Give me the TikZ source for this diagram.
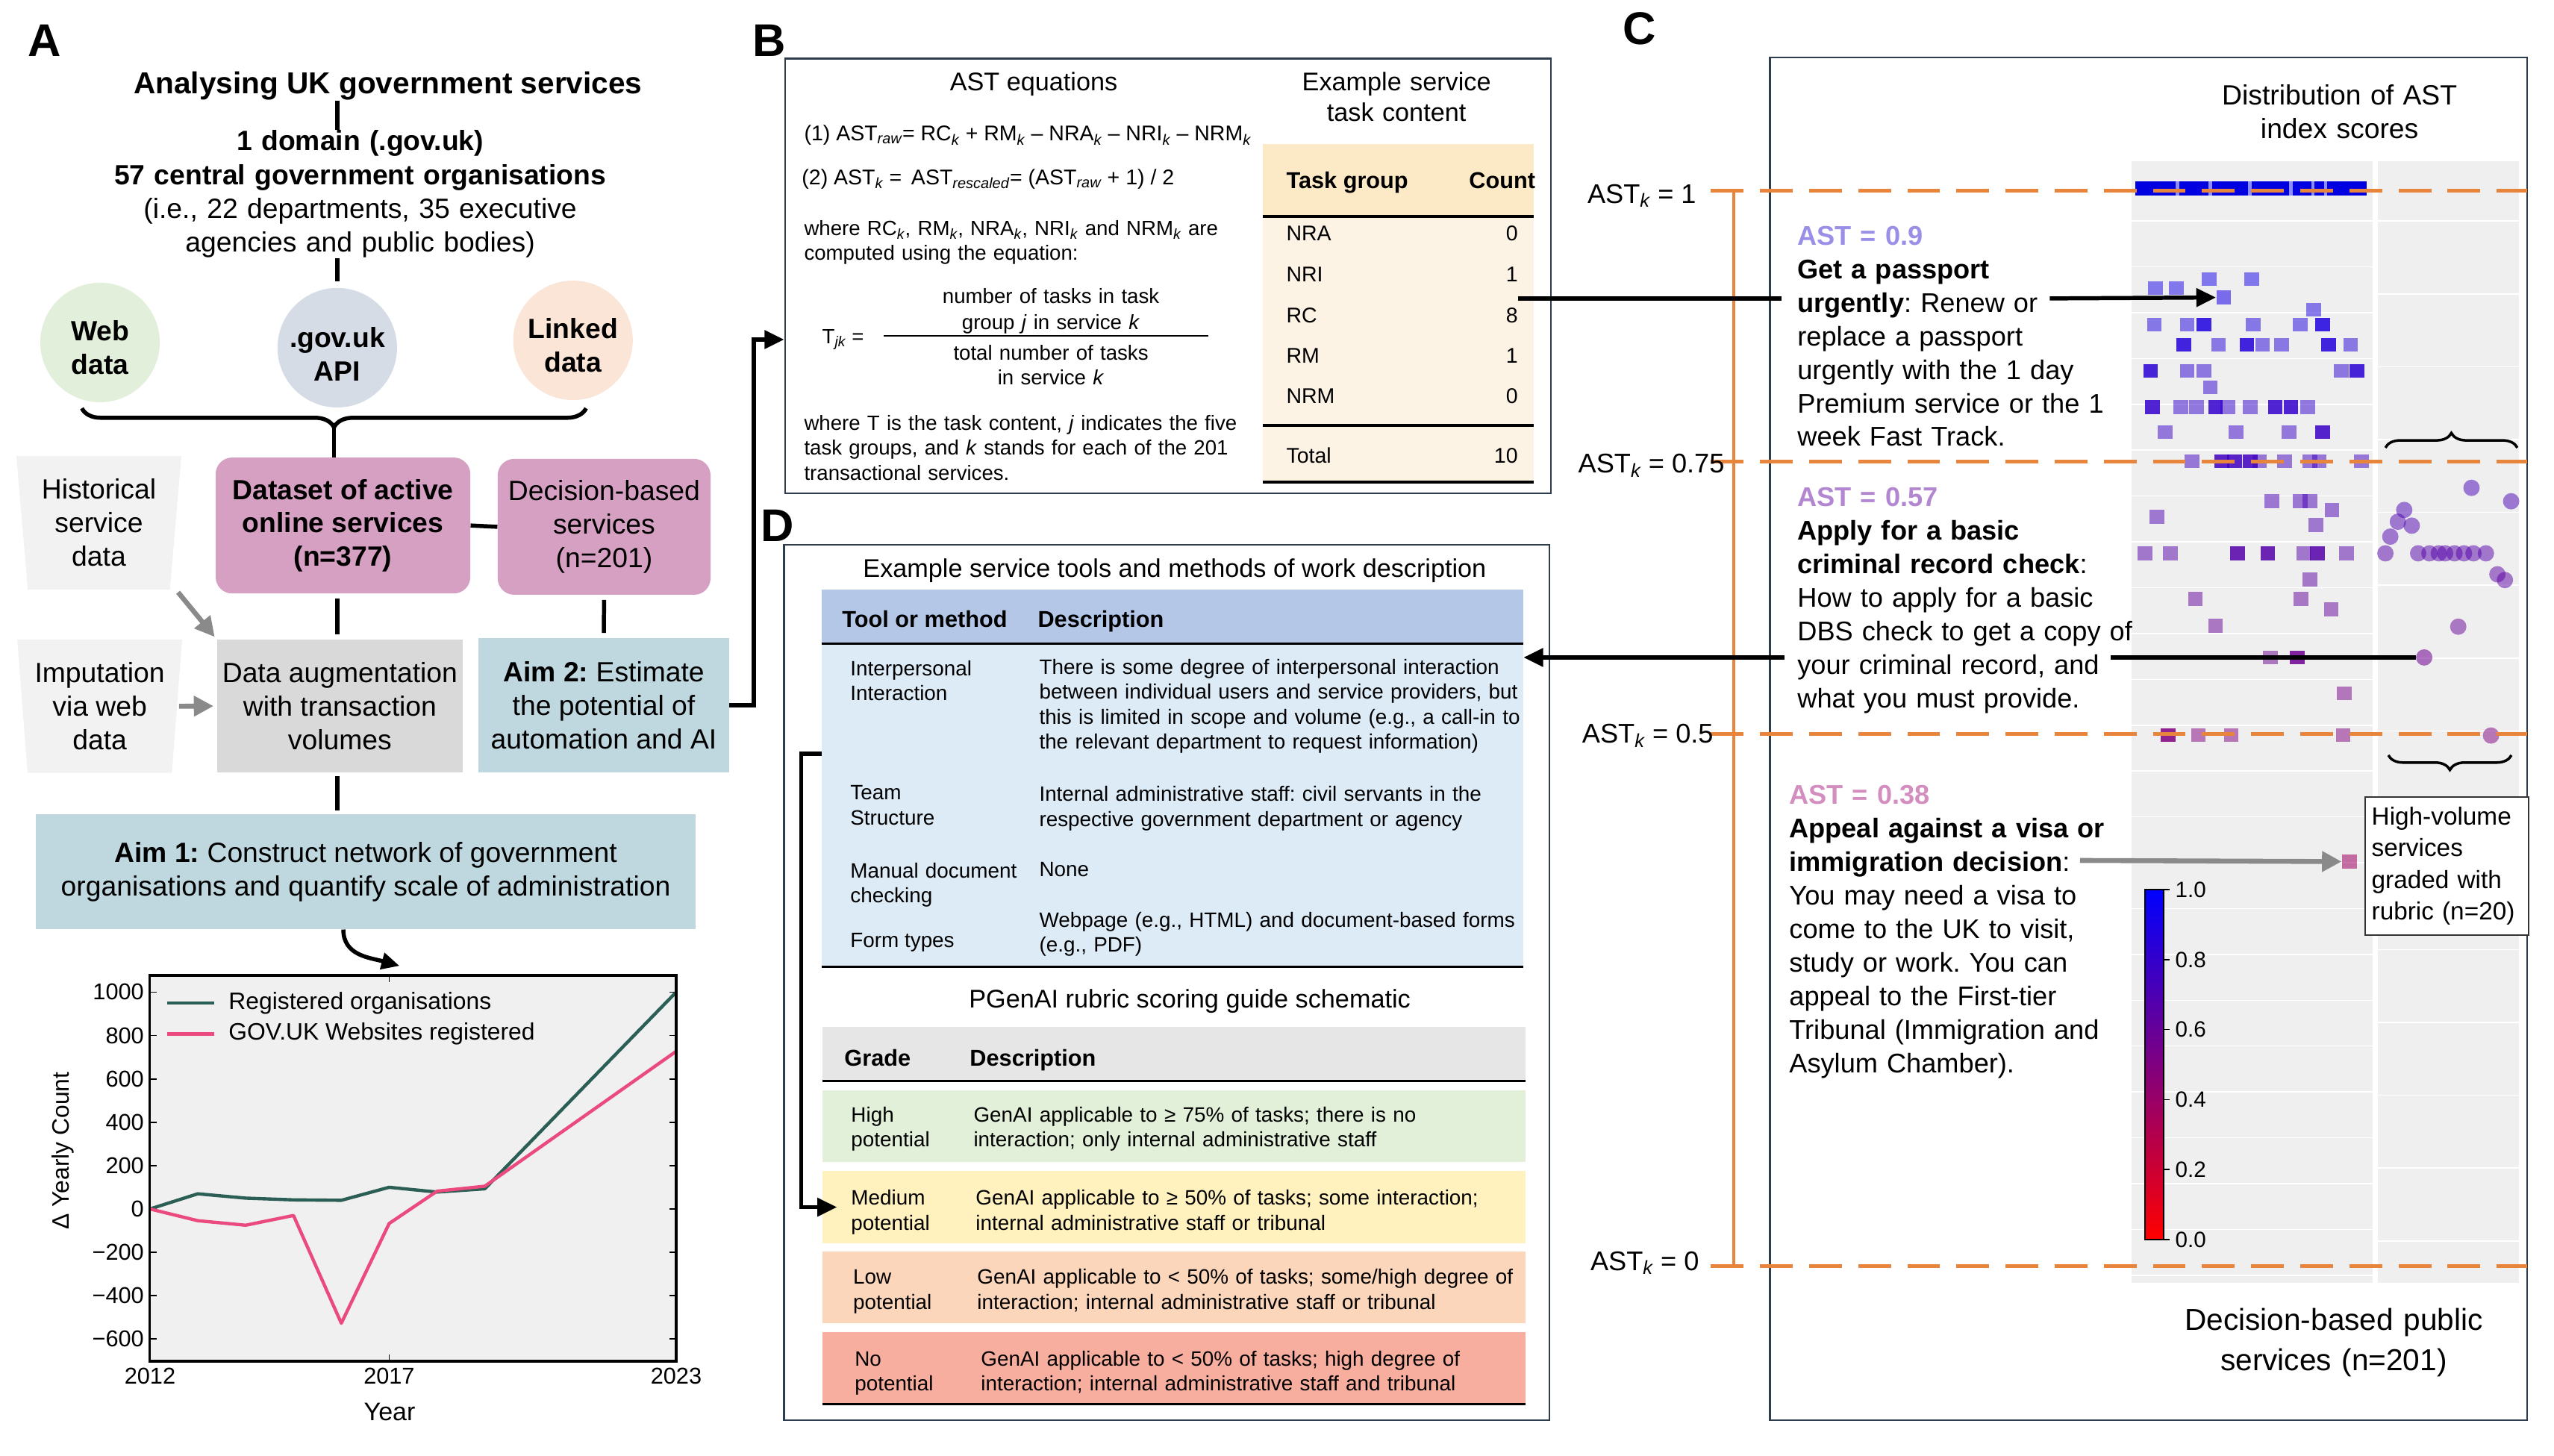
\documentclass[tikz,border=0pt]{standalone}
\usepackage{fontspec}
\setmainfont{Liberation Sans}
\usetikzlibrary{positioning,arrows.meta,shapes.geometric,decorations.pathreplacing}
\definecolor{webgreen}{HTML}{E2EFDA}
\definecolor{apiblue}{HTML}{D6DCE5}
\definecolor{linkpeach}{HTML}{FBE5D6}
\definecolor{mauve}{HTML}{D6A0C2}
\definecolor{paleblue}{HTML}{BFD8E0}
\definecolor{lightgrey}{HTML}{F2F2F2}
\definecolor{midgrey}{HTML}{D9D9D9}
\definecolor{arrowgrey}{HTML}{8A8A8A}
\definecolor{framecol}{HTML}{2E3D4D}
\definecolor{cream}{HTML}{FDF3E5}
\definecolor{creamhead}{HTML}{FCE9C5}
\definecolor{tblhead}{HTML}{B4C7E7}
\definecolor{tblbody}{HTML}{DDEBF7}
\definecolor{gradehead}{HTML}{E7E6E6}
\definecolor{highfill}{HTML}{E2F0D9}
\definecolor{medfill}{HTML}{FFF2BF}
\definecolor{lowfill}{HTML}{FCD6BA}
\definecolor{nofill}{HTML}{F8AE9E}
\definecolor{chartbg}{HTML}{F0F0F0}
\definecolor{orggreen}{HTML}{2B5E55}
\definecolor{webpink}{HTML}{EA4A7D}
\definecolor{stripgrey}{HTML}{EFEFEF}
\definecolor{astorange}{HTML}{E8853D}
\definecolor{astlav}{HTML}{9A8FE6}
\definecolor{astpurple}{HTML}{B286D0}
\definecolor{astpink}{HTML}{D48DBF}
\newcommand{\ksub}[1]{\textsubscript{\itshape #1}}
\newcommand{\fsz}[2]{\fontsize{#1}{#2}\selectfont}
\frenchspacing
\begin{document}
\begin{tikzpicture}[x=1pt, y=-1pt, font=\fsz{17}{20.5},
  txt/.style={inner sep=0pt, anchor=base},
  ltxt/.style={inner sep=0pt, anchor=base west, align=left},
  rtxt/.style={inner sep=0pt, anchor=base east},
  lbl/.style={inner sep=0pt, font=\fsz{28}{30}\bfseries},
  conn/.style={line width=2.5pt},
  tip/.style={-{Triangle[length=12pt,width=11pt]}},
  greyarrow/.style={draw=arrowgrey, line width=3pt, -{Triangle[length=12pt,width=12pt]}},
  bubble/.style={circle, minimum size=73pt, inner sep=0pt},
  bubbletxt/.style={inner sep=0pt, align=center, font=\fsz{17}{20.3}\bfseries},
  srcbox/.style={trapezium, shape border rotate=180, trapezium left angle=84, trapezium right angle=84,
    trapezium stretches=true, fill=lightgrey, minimum width=101pt, minimum height=81.5pt, inner sep=0pt, align=center},
  flowbox/.style={rectangle, inner sep=0pt, align=center},
  panel/.style={draw=framecol, line width=1.3pt, inner sep=0pt},
  cell/.style={rectangle, inner sep=0pt},
  rule/.style={line width=1.6pt},
  btxt/.style={ltxt, font=\fsz{12.6}{15.2}},
  eqtxt/.style={ltxt, font=\fsz{13}{15.6}},
  dtxt/.style={ltxt, font=\fsz{12.7}{15.2}},
  head/.style={font=\fsz{14}{16}\bfseries},
  ctxt/.style={ltxt, text width=215pt, font=\fsz{16.5}{20.5}},
  astline/.style={draw=astorange, line width=2.3pt, dash pattern=on 20pt off 10pt},
]
\useasboundingbox (0,0) rectangle (1560,889);

%% ---------- panel A ----------
\node[lbl] (labA) at (27.4,25) {A};
\node[txt, font=\fsz{18.5}{22}\bfseries] (title) at (237,57.3) {Analysing UK government services};
\node[txt, text width=330pt, align=center, font=\fsz{17}{20.6}] (orgs) at (220,92)
  {\textbf{1 domain (.gov.uk)}\\\textbf{57 central government organisations}\\(i.e., 22 departments, 35 executive\\agencies and public bodies)};
\node[bubble, fill=webgreen] (web) at (61.1,209.2) {};
\node[bubble, fill=apiblue] (api) at (206,212.4) {};
\node[bubble, fill=linkpeach] (linked) at (350,207.9) {};
\node[bubbletxt] (webtxt) at ([yshift=-3pt]web.center) {Web\\data};
\node[bubbletxt] (apitxt) at ([yshift=-4pt]api.center) {.gov.uk\\API};
\node[bubbletxt] (linkedtxt) at ([yshift=-3pt]linked.center) {Linked\\data};
\draw[conn] (title.south -| api) -- (orgs.north -| api);
\draw[conn] (orgs.south -| api) -- ([yshift=4pt]api.north);
\coordinate (braceL) at (50,249.4);
\coordinate (braceR) at (358,249.4);
\coordinate (bracetip) at (204,261);
\draw[conn, decorate, decoration={brace, mirror, amplitude=11.6pt}] (braceL) -- (braceR);

\node[flowbox, fill=mauve, rounded corners=10pt, minimum width=155.5pt, minimum height=83pt,
  font=\fsz{17}{20.4}\bfseries] (dataset) at (209.5,321) {Dataset of active\\online services\\(n=377)};
\node[flowbox, fill=mauve, rounded corners=10pt, minimum width=130pt, minimum height=83pt]
  (decision) at (369,321.8) {Decision-based\\services\\(n=201)};
\node[srcbox] (hist) at (60.4,319.3) {Historical\\service\\data};
\node[srcbox] (imput) at (60.9,431.4) {Imputation\\via web\\data};
\node[flowbox, fill=midgrey, minimum width=150pt, minimum height=81pt] (augment) at (207.6,431.3)
  {Data augmentation\\with transaction\\volumes};
\node[flowbox, fill=paleblue, minimum width=153pt, minimum height=82pt] (aim2) at (368.8,430.8)
  {\textbf{Aim 2:} Estimate\\the potential of\\automation and AI};
\node[flowbox, fill=paleblue, minimum width=403pt, minimum height=70.2pt] (aim1) at (223.4,532.5)
  {\textbf{Aim 1:} Construct network of government\\organisations and quantify scale of administration};

\draw[conn] (bracetip) -- (bracetip |- dataset.north);
\draw[conn] (dataset.east) -- (decision.west);
\draw[conn, shorten <=3pt, shorten >=3pt] (dataset.south -| api) -- (augment.north -| api);
\draw[conn, shorten <=3pt, shorten >=3pt] (decision.south) -- (aim2.north);
\draw[conn, shorten <=2pt, shorten >=2pt] (augment.south -| api) -- (aim1.north -| api);
\draw[greyarrow, shorten <=2pt, shorten >=2pt] (hist.south -| hist.east) -- (augment.north west);
\draw[greyarrow, shorten <=1pt, shorten >=2pt] (imput.east) -- (augment.west);
\coordinate (chartin) at (244,590);
\draw[conn, -{Triangle[length=11pt,width=10pt]}] ([xshift=-13.7pt]aim1.south) .. controls +(0,16) and +(-18,-5) .. (chartin);

% chart
\begin{scope}[shift={(91.6,738.5)}, x=29.22pt, y=0.13248pt]
  \fill[chartbg] (0,-702) rectangle (11,1077);
  \foreach \v in {-600,-400,...,1000} {
    \draw[line width=0.8pt] (0,\v) -- ++(4pt,0);
    \draw[line width=0.8pt] (11,\v) -- ++(-4pt,0);
  }
  \draw[line width=0.8pt] (5,-702) -- ++(0,4pt) (5,1077) -- ++(0,-4pt);
  \draw[orggreen, line width=2pt, line join=round] (0,0) -- (1,70) -- (2,50) -- (3,42) -- (4,40)
    -- (5,100) -- (6,78) -- (7,93) -- (11,1000);
  \draw[webpink, line width=2pt, line join=round] (0,0) -- (1,-54) -- (2,-75) -- (3,-30) -- (4,-527)
    -- (5,-67) -- (6,82) -- (7,105) -- (11,727);
  \draw[line width=1.4pt] (0,-702) rectangle (11,1077);
  \foreach \v/\t in {1000/1000,800/800,600/600,400/400,200/200,0/0,-200/−200,-400/−400,-600/−600}
    \node[anchor=east, inner sep=0pt, font=\fsz{14}{16}] (yt\v) at ([xshift=-3.5pt]0,\v) {\t};
  \foreach \yr/\x in {2012/0,2017/5,2023/11}
    \node[anchor=north, inner sep=0pt, font=\fsz{14}{16}] (xt\yr) at ([yshift=-4pt]\x,-702) {\yr};
  \draw[orggreen, line width=2.2pt] (0.356,950) -- (1.34,950);
  \node[anchor=west, inner sep=0pt, font=\fsz{14.5}{17}] (legorg) at (1.64,950) {Registered organisations};
  \draw[webpink, line width=2.2pt] (0.356,808) -- (1.34,808);
  \node[anchor=west, inner sep=0pt, font=\fsz{14.5}{17}] (legweb) at (1.64,808) {GOV.UK Websites registered};
\end{scope}
\node[font=\fsz{15.5}{18}] (yearlbl) at (238,862.5) {Year};
\node[rotate=90, font=\fsz{14.5}{17}] (countlbl) at (38.3,703) {Δ Yearly Count};

%% ---------- panel B ----------
\node[lbl] (labB) at (470,25) {B};
\node[panel, minimum width=467.7pt, minimum height=265.7pt] (frameB) at (713.45,168.45) {};
\node[txt, font=\fsz{15.6}{18.6}] (asteq) at (631.4,55.4) {AST equations};
\node[txt, text width=160pt, align=center, font=\fsz{15.6}{18.6}] (example) at (853,55.4) {Example service\\task content};
\node[eqtxt] (eqone) at (491,86.1) {(1) AST\ksub{raw}= RC\ksub{k} + RM\ksub{k} – NRA\ksub{k} – NRI\ksub{k} – NRM\ksub{k}};
\node[eqtxt] (eqtwo) at (489.6,112.7) {(2) AST\ksub{k} = \,AST\ksub{rescaled}= (AST\ksub{raw} + 1) / 2};
\node[btxt, text width=275pt] (where) at (491,143.8)
  {where RC\ksub{k}, RM\ksub{k}, NRA\ksub{k}, NRI\ksub{k} and NRM\ksub{k} are\\computed using the equation:};
\node[btxt] (tjk) at (502,209.7) {T\ksub{jk} =};
\draw[line width=0.8pt] (539.7,205.1) -- (738,205.1);
\node[txt, text width=200pt, align=center, font=\fsz{12.6}{15.9}] (numer) at (641.9,185.5)
  {number of tasks in task\\group \textit{j} in service \textit{k}};
\node[txt, text width=200pt, align=center, font=\fsz{12.6}{14.9}] (denom) at (641.9,220)
  {total number of tasks\\in service \textit{k}};
\node[btxt, text width=290pt] (whereT) at (491,262.8)
  {where T is the task content, \textit{j} indicates the five\\task groups, and \textit{k} stands for each of the 201\\transactional services.};
% task table
\fill[cream] (771.3,132.2) rectangle (937,294.5);
\fill[creamhead] (771.3,88) rectangle (937,132.2);
\draw[rule] (771.3,132.2) -- (937,132.2) (771.3,259.8) -- (937,259.8) (771.3,294.5) -- (937,294.5);
\node[ltxt, head] (tghead) at (785.5,114.9) {Task group};
\node[rtxt, head] (cnthead) at (938,114.9) {Count};
\foreach \n/\c/\y in {NRA/0/147,NRI/1/172.2,RC/8/197.2,RM/1/221.9,NRM/0/246.6} {
  \node[ltxt, font=\fsz{13}{15}] (tg\n) at (785.5,\y) {\n};
  \node[rtxt, font=\fsz{13}{15}] (cnt\n) at (927.3,\y) {\c};
}
\node[ltxt, font=\fsz{13}{15}] (tgTotal) at (785.5,282.7) {Total};
\node[rtxt, font=\fsz{13}{15}] (cntTotal) at (927.3,282.7) {10};

%% ---------- panel D ----------
\node[lbl] (labD) at (475,321) {D};
\node[panel, minimum width=467.7pt, minimum height=534.7pt] (frameD) at (712.55,600.15) {};
\node[txt, font=\fsz{15.6}{18.6}] (toolstitle) at (717.5,352.4) {Example service tools and methods of work description};
\node[cell, fill=tblhead, minimum width=428.5pt, minimum height=32.9pt] (toolhead) at (716.15,376.55) {};
\node[cell, fill=tblbody, minimum width=428.5pt, minimum height=197.3pt] (toolbody) at (716.15,491.65) {};
\draw[rule] (toolhead.south west) -- (toolhead.south east);
\draw[rule] (toolbody.south west) -- (toolbody.south east);
\node[ltxt, head] (tmhead) at (514.2,383.1) {Tool or method};
\node[ltxt, head] (tdhead) at (633.7,383.1) {Description};
\node[dtxt, text width=110pt] (tmone) at (519.2,412.8) {Interpersonal\\Interaction};
\node[dtxt, text width=300pt] (tdone) at (634.6,411.9) {There is some degree of interpersonal interaction\\between individual users and service providers, but\\this is limited in scope and volume (e.g., a call-in to\\the relevant department to request information)};
\node[dtxt, text width=110pt] (tmtwo) at (519.2,488.6) {Team\\Structure};
\node[dtxt, text width=300pt] (tdtwo) at (634.6,489.5) {Internal administrative staff: civil servants in the\\respective government department or agency};
\node[dtxt, text width=110pt] (tmthree) at (519.2,536.3) {Manual document\\checking};
\node[dtxt] (tdthree) at (634.6,535.4) {None};
\node[dtxt] (tmfour) at (519.2,578.7) {Form types};
\node[dtxt, text width=300pt] (tdfour) at (634.6,566.4) {Webpage (e.g., HTML) and document-based forms\\(e.g., PDF)};

\node[txt, font=\fsz{15.6}{18.6}] (rubrictitle) at (726.7,615.7) {PGenAI rubric scoring guide schematic};
\node[cell, fill=gradehead, minimum width=429.4pt, minimum height=32.8pt] (gradehead) at (717.1,643.7) {};
\node[cell, fill=highfill, minimum width=429.4pt, minimum height=43.8pt] (highrow) at (717.1,687.9) {};
\node[cell, fill=medfill, minimum width=429.4pt, minimum height=44.2pt] (medrow) at (717.1,737.4) {};
\node[cell, fill=lowfill, minimum width=429.4pt, minimum height=43.8pt] (lowrow) at (717.1,786.4) {};
\node[cell, fill=nofill, minimum width=429.4pt, minimum height=43.8pt] (norow) at (717.1,835.6) {};
\draw[rule] (gradehead.south west) -- (gradehead.south east);
\draw[rule] (norow.south west) -- (norow.south east);
\node[ltxt, head] (grhead) at (515.6,651.2) {Grade};
\node[ltxt, head] (gdhead) at (592.2,651.2) {Description};
\node[dtxt, text width=70pt] (ghigh) at (519.7,685.2) {High\\potential};
\node[dtxt, text width=330pt] (dhigh) at (594.5,685.2) {GenAI applicable to ≥ 75\% of tasks; there is no\\interaction; only internal administrative staff};
\node[dtxt, text width=70pt] (gmed) at (519.7,736.2) {Medium\\potential};
\node[dtxt, text width=330pt] (dmed) at (595.8,736.2) {GenAI applicable to ≥ 50\% of tasks; some interaction;\\internal administrative staff or tribunal};
\node[dtxt, text width=70pt] (glow) at (520.9,784.4) {Low\\potential};
\node[dtxt, text width=330pt] (dlow) at (596.7,784.4) {GenAI applicable to < 50\% of tasks; some/high degree of\\interaction; internal administrative staff or tribunal};
\node[dtxt, text width=70pt] (gno) at (521.9,834.5) {No\\potential};
\node[dtxt, text width=330pt] (dno) at (599,834.5) {GenAI applicable to < 50\% of tasks; high degree of\\interaction; internal administrative staff and tribunal};

%% ---------- panel C ----------
\node[lbl] (labC) at (1001.5,17.5) {C};
\node[panel, minimum width=462.7pt, minimum height=832.4pt] (frameC) at (1312.25,451.3) {};
\node[txt, text width=200pt, align=center, font=\fsz{17}{20.4}] (distlbl) at (1429,64.1) {Distribution of AST\\index scores};
\fill[stripgrey] (1302,98.5) rectangle (1449.2,783.6);
\fill[stripgrey] (1452.4,98.5) rectangle (1538.6,783.6);
\foreach \y in {135,163,...,780} \draw[white, line width=0.7pt] (1302,\y) -- (1449.2,\y);
\foreach \y in {135,179.5,...,780} \draw[white, line width=0.7pt] (1452.4,\y) -- (1538.6,\y);
% top band of scores near 1
\fill[blue!88!black] (1304.3,110.8) rectangle (1445.6,119.4);
\foreach \x in {1330,1350,1374.3,1399.3,1412.7,1420.5}
  \fill[blue!45!white] (\x-1,110.8) rectangle (\x+1,119.4);
% service scores
\foreach \x/\y/\o in {1316.7/176.0/.5, 1329.4/176.0/.5, 1349.3/170.5/.5, 1375.5/170.5/.5, 1413.1/189.3/.5,
  1315.9/198.4/.5, 1335.9/198.4/.5, 1346.3/198.4/.85, 1376.2/198.4/.5, 1405.1/198.4/.5, 1418.5/198.4/.85,
  1334.0/210.6/.85, 1355.1/210.6/.5, 1372.4/210.6/.85, 1382.0/210.6/.5, 1393.5/210.6/.5, 1422.4/210.6/.85, 1435.8/210.6/.5,
  1313.6/226.5/.85, 1335.9/226.5/.5, 1346.3/226.5/.5, 1430.1/226.5/.5, 1439.7/226.5/.85, 1350.1/236.5/.5,
  1314.7/248.7/.85, 1332.0/248.7/.5, 1341.6/248.7/.5, 1353.2/248.7/.85, 1360.9/248.7/.5, 1374.3/248.7/.5,
  1389.7/248.7/.85, 1399.3/248.7/.85, 1409.7/248.7/.5,
  1322.4/263.9/.5, 1365.9/263.9/.5, 1398.2/263.9/.5, 1418.5/263.9/.85,
  1339.0/281.8/.5, 1357.0/281.8/.85, 1364.7/281.8/.85, 1374.3/281.8/.85, 1380.1/281.8/.5, 1395.5/281.8/.5,
  1410.8/281.8/.5, 1416.6/281.8/.5, 1442.4/281.8/.5,
  1387.8/306.1/.5, 1405.1/306.1/.5, 1410.8/306.1/.5, 1317.4/315.6/.5, 1424.3/311.6/.5, 1414.7/320.7/.5,
  1310.1/338.0/.5, 1325.5/338.0/.5, 1366.6/338.0/.85, 1385.1/338.0/.85, 1407.0/338.0/.5, 1415.5/338.0/.85, 1433.1/338.0/.5,
  1410.8/353.9/.5, 1340.9/365.9/.5, 1405.5/365.9/.5, 1423.9/372.2/.5, 1353.2/382.2/.5,
  1386.6/401.5/.5, 1403.1/401.5/.85, 1432.0/423.5/.5,
  1324.3/448.9/.85, 1342.8/448.9/.5, 1362.8/448.9/.5, 1431.2/448.9/.5} {
  \pgfmathsetmacro\pct{100*(1-(\y-116.5)/664)}
  \fill[blue!\pct!red, opacity=\o] (\x-4.5,\y-4.2) rectangle (\x+4.5,\y+4.2);
}
\foreach \x/\y in {1509.6/298, 1533.8/306.2, 1468.5/311.5, 1464.6/318.7, 1473.1/321.1, 1460.0/327.8,
  1457.0/338, 1477.0/338, 1483.9/338, 1489.6/338, 1493.5/338, 1499.2/338, 1505.0/338, 1510.8/338, 1518.4/338,
  1525.4/350.8, 1530.0/354.3, 1501.5/382.8, 1521.5/449.3} {
  \pgfmathsetmacro\pct{100*(1-(\y-116.5)/664)}
  \fill[blue!\pct!red, opacity=.5] (\x,\y) circle (5pt);
}
\node[cell, fill=blue!90!red, opacity=.55, minimum width=9pt, minimum height=8.4pt] (sqpass) at (1358.2,181.7) {};
\node[cell, fill=blue!38!red, opacity=.55, minimum width=9pt, minimum height=8.4pt] (sqpink) at (1435,526.3) {};
\node[circle, fill=blue!57!red, opacity=.55, minimum size=10pt, inner sep=0pt] (dbsdot) at (1480.7,401.6) {};

% AST levels
\foreach \y in {116.5,282,448.5,773.5} \draw[astline] (1045,\y) -- (1543.6,\y);
\draw[astorange, line width=1.8pt] (1059,116.5) -- (1059,773.5);
\node[rtxt, font=\fsz{16.5}{19}] (astone) at (1036.2,124.1) {AST\ksub{k} = 1};
\node[rtxt, font=\fsz{16.5}{19}] (astsev) at (1053.5,289) {AST\ksub{k} = 0.75};
\node[rtxt, font=\fsz{16.5}{19}] (asthalf) at (1046.7,454) {AST\ksub{k} = 0.5};
\node[rtxt, font=\fsz{16.5}{19}] (astzero) at (1038,776) {AST\ksub{k} = 0};

\draw[line width=1.6pt, decorate, decoration={brace, amplitude=9pt}] (1457,273.5) -- (1537.6,273.5);
\draw[line width=1.6pt, decorate, decoration={brace, mirror, amplitude=9pt}] (1458.8,461.3) -- (1534,461.3);

\node[ctxt] (passport) at (1097.7,149.6) {{\color{astlav}\textbf{AST = 0.9}}\\\textbf{Get a passport}\\\textbf{urgently}: Renew or\\replace a passport\\urgently with the 1 day\\Premium service or the 1\\week Fast Track.};
\node[ctxt] (dbs) at (1097.7,309.5) {{\color{astpurple}\textbf{AST = 0.57}}\\\textbf{Apply for a basic}\\\textbf{criminal record check}:\\How to apply for a basic\\DBS check to get a copy of\\your criminal record, and\\what you must provide.};
\node[ctxt] (appeal) at (1092.7,491.2) {{\color{astpink}\textbf{AST = 0.38}}\\\textbf{Appeal against a visa or}\\\textbf{immigration decision}:\\You may need a visa to\\come to the UK to visit,\\study or work. You can\\appeal to the First-tier\\Tribunal (Immigration and\\Asylum Chamber).};

\node[draw=black!80, line width=0.8pt, fill=white, text width=92pt, inner xsep=4pt, inner ysep=2pt,
  minimum height=84.3pt, align=left, font=\fsz{15.2}{19.2}] (highvol) at (1494.6,529) {High-volume\\services\\graded with\\rubric (n=20)};

% colour bar
\shade[top color=blue, bottom color=red] (1310.2,543.4) rectangle (1321.6,757.2);
\draw[line width=0.8pt] (1310.2,543.4) rectangle (1321.6,757.2);
\foreach \i/\t in {0/0.0,1/0.2,2/0.4,3/0.6,4/0.8,5/1.0} {
  \draw[line width=0.8pt] (1321.6,757.2-\i*42.76) -- (1325,757.2-\i*42.76);
  \node[anchor=west, inner sep=0pt, font=\fsz{13.5}{16}] (cb\i) at (1328.5,757.2-\i*42.76) {\t};
}
\node[txt, text width=220pt, align=center, font=\fsz{18.5}{24.5}] (decisionlbl) at (1425.5,812.8) {Decision-based public\\services (n=201)};

%% ---------- links between panels ----------
\draw[conn, tip] (aim2.east) -- ++(15,0) |- (frameB.west |- tjk);
\coordinate (passin) at (1088.2,182.3);
\coordinate (passout) at (1252,182.3);
\draw[conn] (cntRC.east |- passin) -- (passin);
\draw[conn, tip] (passout) -- (sqpass.west);
\coordinate (dbsin) at (1089.9,401.6);
\coordinate (dbsout) at (1289,401.6);
\draw[conn] (dbsdot.west) -- (dbsout);
\draw[conn, tip] (dbsin) -- (dbsin -| toolbody.east);
\draw[conn, tip] ([yshift=31.25pt]toolbody.west) -- ++(-12.3,0) |- ([xshift=9pt]medrow.west);
\coordinate (appealout) at (1270.5,525.6);
\draw[greyarrow] (appealout) -- (sqpink.west);
\end{tikzpicture}
\end{document}
